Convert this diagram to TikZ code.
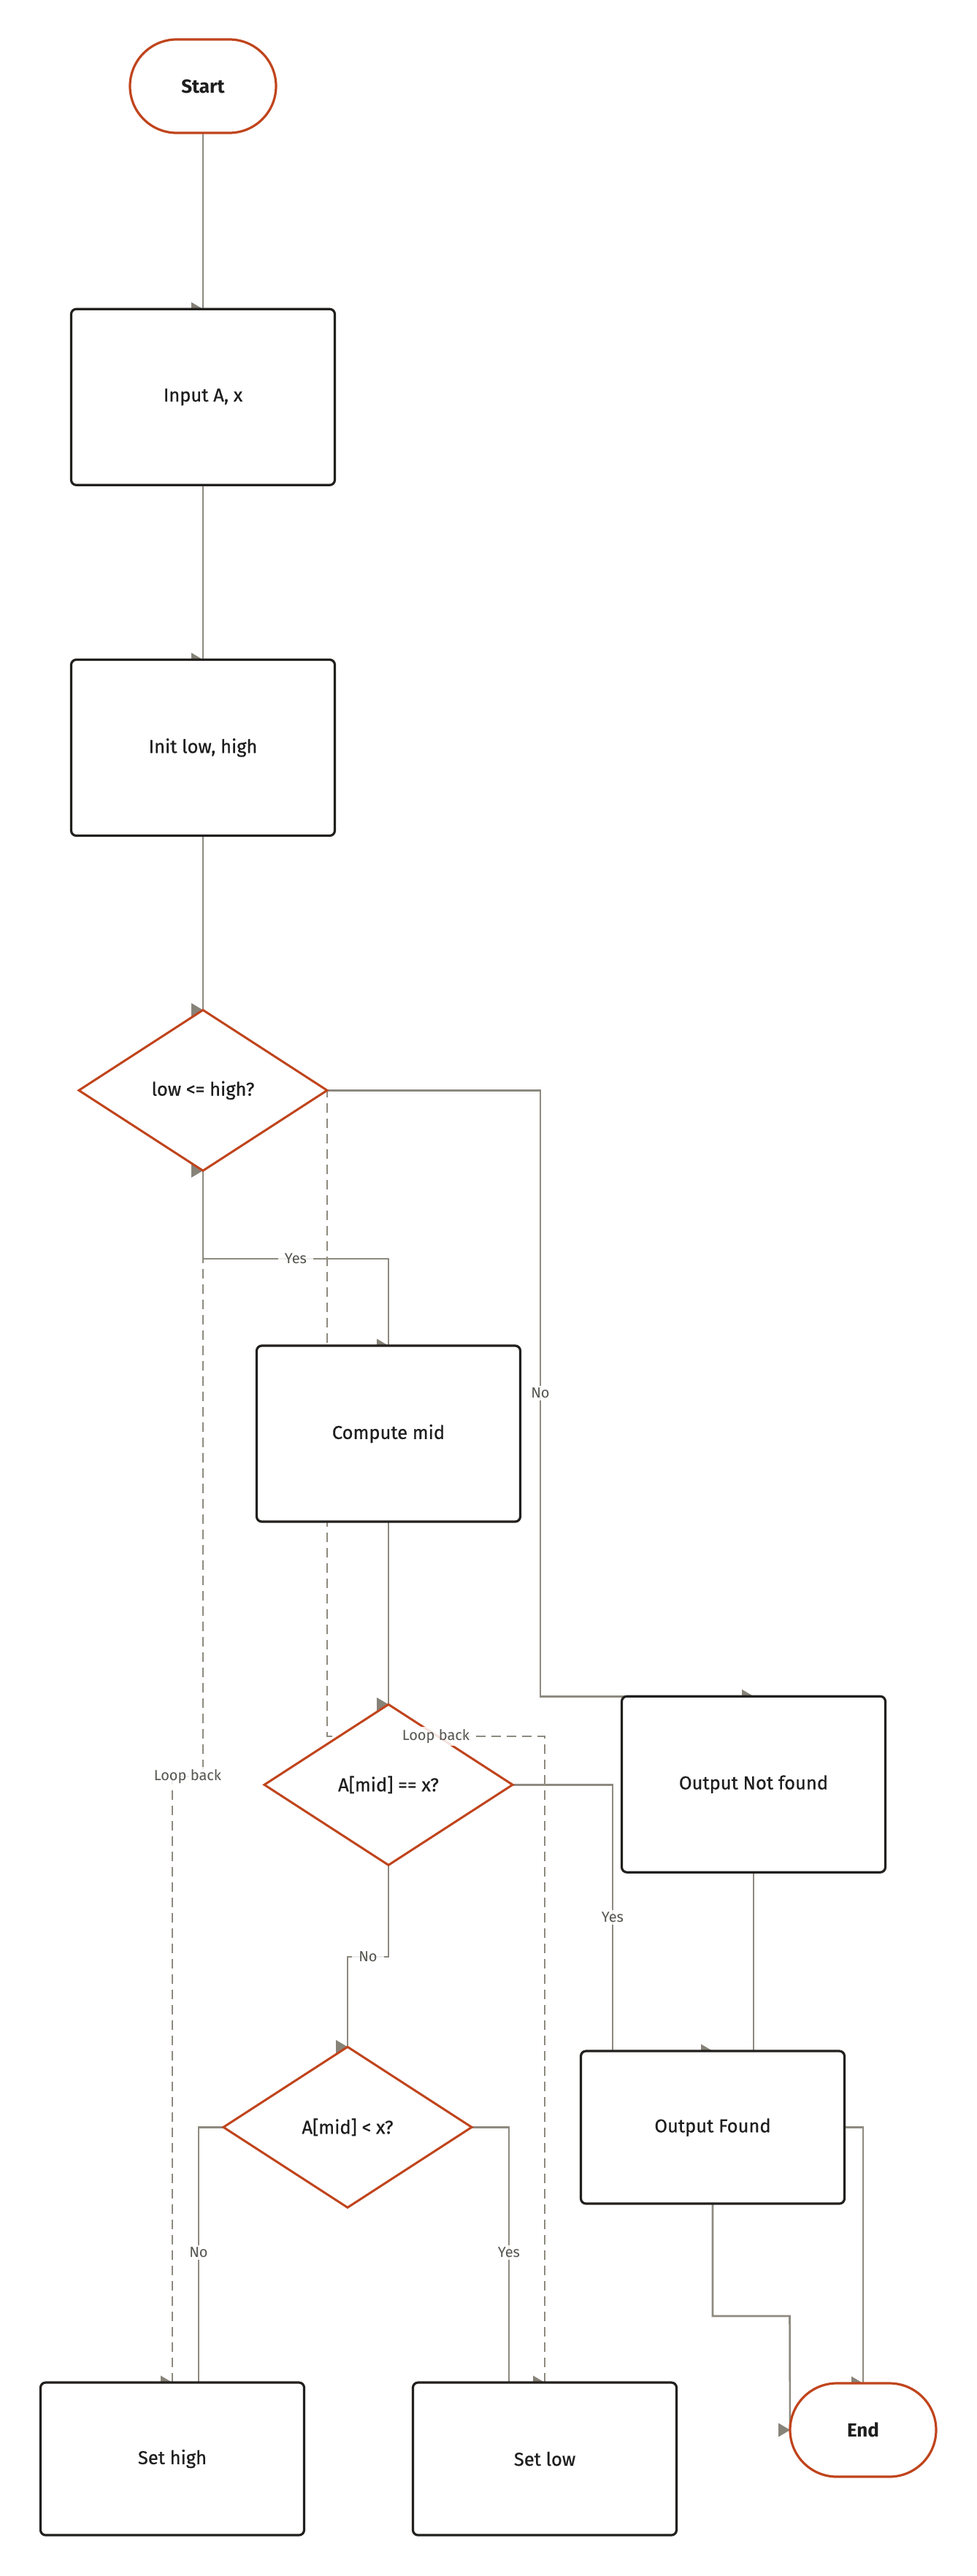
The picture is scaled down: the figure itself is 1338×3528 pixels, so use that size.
\documentclass[tikz,border=0pt]{standalone}
\usepackage{fontspec}
\setmainfont{Fira Sans}
\newfontfamily\medfont{Fira Sans}[FakeBold=0.7]
\usetikzlibrary{shapes.geometric,calc}
\definecolor{orng}{RGB}{192,68,28}
\definecolor{edgec}{RGB}{142,138,128}
\definecolor{tipc}{RGB}{135,131,121}
\definecolor{boxc}{RGB}{34,32,30}
\definecolor{txtc}{RGB}{30,30,30}
\definecolor{lblc}{RGB}{85,85,80}
\pgfdeclarelayer{bg}\pgfdeclarelayer{fg}\pgfsetlayers{bg,main,fg}
\tikzset{
  nodetext/.style={font=\medfont\fontsize{25.5}{30}\selectfont, text=txtc},
  procbox/.style={nodetext, draw=boxc, line width=3.2pt, fill=white, rounded corners=7pt,
    minimum width=361pt, minimum height=241pt, inner sep=0pt, outer sep=0pt},
  shortbox/.style={procbox, minimum height=209pt},
  term/.style={nodetext, font=\fontsize{26}{30}\selectfont\bfseries, draw=orng, line width=3.2pt,
    fill=white, rounded corners=64pt, minimum width=200pt, minimum height=128pt,
    inner sep=0pt, outer sep=0pt},
  decision/.style={nodetext, diamond, draw=orng, line width=3pt, fill=white,
    minimum width=340pt, minimum height=220pt, inner sep=0pt, outer sep=0pt},
  edge/.style={draw=edgec, line width=2.6pt},
  loopedge/.style={edge, dash pattern=on 13pt off 8pt},
  lbl/.style={fill=white, fill opacity=0.85, text opacity=1, text=lblc,
    font=\fontsize{20}{24}\selectfont, inner xsep=9pt, inner ysep=3pt}
}
\newcommand\arrowtip[1]{\fill[tipc] (#1) -- ++(-16,-9.5) -- ++(0,19) -- cycle;}
\begin{document}
\begin{tikzpicture}[x=1pt,y=-1pt]
\useasboundingbox (0,0) rectangle (1338,3528);
% nodes
\node[term]     (start)    at (278,118)    {Start};
\node[procbox]  (input)    at (278,543.8)  {Input A, x};
\node[procbox]  (init)     at (278,1024)   {Init low, high};
\node[decision] (c1)       at (278,1493.3) {low <= high?};
\node[procbox]  (compute)  at (532,1963.5) {Compute mid};
\node[decision] (c2)       at (532,2444.3) {A[mid] == x?};
\node[procbox]  (notfound) at (1032,2443.7) {Output Not found};
\node[decision] (c3)       at (476,2913.3) {A[mid] < x?};
\node[shortbox] (found)    at (976,2913.5) {Output Found};
\node[shortbox] (sethigh)  at (236,3367.5) {Set high};
\node[shortbox] (setlow)   at (746,3367.5) {Set low};
\node[term]     (end)      at (1182,3328)  {End};
% bend points
\coordinate (b1) at (278,1724);
\coordinate (b2) at (740,2323.2);
\coordinate (b3) at (839,2809);
\coordinate (b4) at (476,2680);
\coordinate (b5) at (272,3263);
\coordinate (b6) at (697,3263);
\coordinate (b7) at (1081.5,3172);
\coordinate (b8) at (236,2433);
\coordinate (b9) at (278,2433);
\coordinate (b10) at (448,2378);
\begin{pgfonlayer}{bg}
\fill[white] (0,0) rectangle (1338,3528);
\draw[edge] (start.south) -- (input.north);
\draw[edge] (input.south) -- (init.north);
\draw[edge] (init.south) -- (c1.north);
\draw[edge] (c1.south) -- (b1) -| (compute.north);
\draw[edge] (c1.east) -| (b2) -- (notfound.north);
\draw[edge] (compute.south) -- (c2.north);
\draw[edge] (c2.east) -| (b3) -- (found.north);
\draw[edge] (c2.south) |- (b4) -- (c3.north);
\draw[edge] (c3.west) -| (b5) -- (sethigh.north);
\draw[edge] (c3.east) -| (b6) -- (setlow.north);
\draw[edge] (notfound.south) -- (notfound.south |- found.north) -- (found.north);
\draw[edge] (found.south) |- (b7) -- (end.west);
\draw[edge] (found.east) -| (end.north);
\draw[loopedge] (sethigh.north) -- (b8) -- (b9) -- (c1.south);
\draw[loopedge] (setlow.north) |- (b10) -- (c1.east);
\arrowtip{input.north}
\arrowtip{init.north}
\arrowtip{c1.north}
\arrowtip{compute.north}
\arrowtip{notfound.north}
\arrowtip{c2.north}
\arrowtip{found.north}
\arrowtip{c3.north}
\arrowtip{sethigh.north}
\arrowtip{setlow.north}
\arrowtip{end.west}
\arrowtip{end.north}
\arrowtip{c1.south}
\arrowtip{c1.east}
\end{pgfonlayer}
\begin{pgfonlayer}{fg}
\node[lbl] (l1) at (405,1724)  {Yes};
\node[lbl] (l2) at (740,1908)  {No};
\node[lbl] (l3) at (839,2626)  {Yes};
\node[lbl] (l4) at (504,2680)  {No};
\node[lbl] (l5) at (272,3085)  {No};
\node[lbl] (l6) at (697,3085)  {Yes};
\node[lbl] (l7) at (257,2433)  {Loop back};
\node[lbl] (l8) at (597,2378)  {Loop back};
\end{pgfonlayer}
\end{tikzpicture}
\end{document}
